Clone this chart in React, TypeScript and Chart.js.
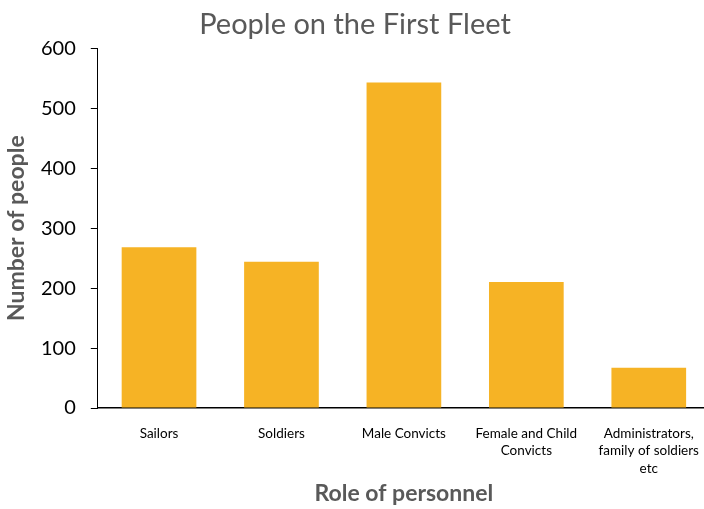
import React, { useEffect, useRef } from "react";
import { Chart, registerables } from "chart.js";

Chart.register(...registerables);

const categories: (string | string[])[] = [
  "Sailors",
  "Soldiers",
  "Male Convicts",
  ["Female and Child", "Convicts"],
  ["Administrators,", "family of soldiers", "etc"],
];
const people: number[] = [268, 244, 543, 210, 67];
const yTicks = { min: 0, max: 600, step: 100 };

const TITLE = "People on the First Fleet";
const X_TITLE = "Role of personnel";
const Y_TITLE = "Number of people";

const FONT = "Lato, 'Open Sans', sans-serif";

export default function App() {
  const ref = useRef<HTMLCanvasElement | null>(null);

  useEffect(() => {
    if (!ref.current) return;
    const chart = new Chart(ref.current, {
      type: "bar",
      data: {
        labels: categories,
        datasets: [
          {
            data: people,
            backgroundColor: "#F6B325",
            borderWidth: 0,
            barPercentage: 0.61,
            categoryPercentage: 1,
          },
        ],
      },
      options: {
        responsive: false,
        animation: false,
        devicePixelRatio: 1,
        layout: { padding: { left: 0, right: 28, top: 0, bottom: 0 } },
        plugins: {
          legend: { display: false },
          tooltip: { enabled: false },
          title: {
            display: true,
            text: TITLE,
            color: "#595959",
            font: { family: FONT, size: 29, weight: "normal" },
            padding: { top: 7.5, bottom: 6 },
          },
        },
        scales: {
          x: {
            grid: { display: false, drawTicks: false },
            border: { display: true, color: "#000000", width: 1.5 },
            ticks: {
              color: "#000000",
              font: { family: FONT, size: 13.5, lineHeight: 1.28 },
              padding: 17,
              maxRotation: 0,
              autoSkip: false,
            },
            title: {
              display: true,
              text: X_TITLE,
              color: "#595959",
              font: { family: FONT, size: 23, weight: "bold" },
              padding: { top: 0, bottom: 2 },
            },
            afterFit: (scale: any) => {
              scale.height = 101;
            },
          },
          y: {
            min: yTicks.min,
            max: yTicks.max,
            grid: {
              drawOnChartArea: false,
              drawTicks: true,
              tickLength: 7,
              color: "#000000",
            },
            border: { display: true, color: "#000000", width: 1 },
            ticks: {
              stepSize: yTicks.step,
              color: "#000000",
              font: { family: FONT, size: 20 },
              padding: 15,
            },
            title: {
              display: true,
              text: Y_TITLE,
              color: "#595959",
              font: { family: FONT, size: 23, weight: "bold" },
              padding: { top: 3, bottom: 0 },
            },
            afterFit: (scale: any) => {
              scale.width = 97.8;
            },
          },
        },
      },
    } as any);
    return () => chart.destroy();
  }, []);

  return (
    <div
      style={{
        position: "fixed",
        left: 0,
        top: 0,
        width: 704,
        height: 509,
        overflow: "hidden",
        background: "#ffffff",
      }}
    >
      <canvas ref={ref} width={738} height={509} style={{ display: "block" }} />
    </div>
  );
}
